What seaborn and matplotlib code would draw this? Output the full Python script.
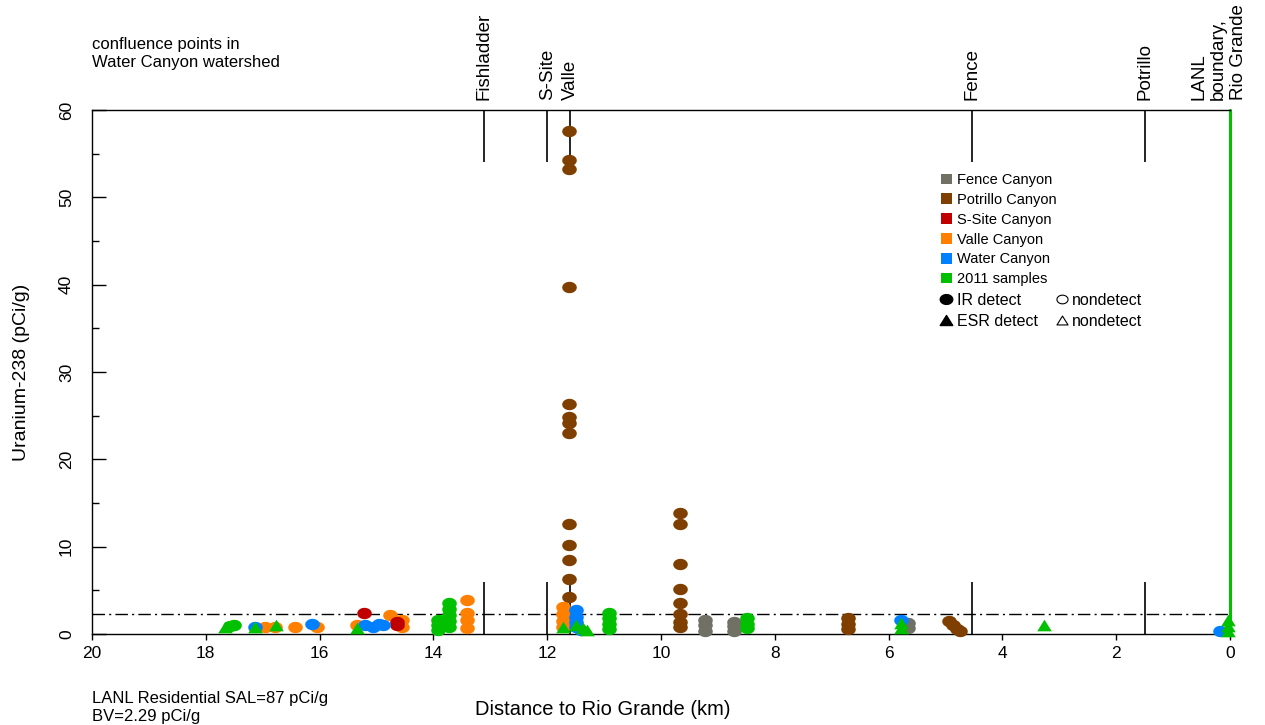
import numpy as np
import pandas as pd
import matplotlib
matplotlib.use("Agg")
import matplotlib.pyplot as plt
import matplotlib.transforms as mtransforms
from matplotlib.path import Path
from matplotlib.lines import Line2D
from matplotlib.patches import Patch
import seaborn as sns

# ---------------- data ----------------
fence_km = [9.23, 9.23, 9.23, 8.72, 8.72, 8.72, 5.66, 5.66]
fence_u = [1.6, 1.0, 0.4, 1.4, 0.9, 0.4, 1.3, 0.7]

potrillo_km = [11.62, 11.62, 11.62, 11.62, 11.62, 11.62, 11.62, 11.62, 11.62, 11.62, 11.62, 11.62, 11.62,
               9.67, 9.67, 9.67, 9.67, 9.67, 9.67, 9.67, 9.67,
               6.71, 6.71, 6.71,
               4.93, 4.86, 4.80, 4.74]
potrillo_u = [57.6, 54.3, 53.3, 39.7, 26.3, 24.9, 24.2, 23.0, 12.6, 10.2, 8.5, 6.3, 4.2,
              13.9, 12.6, 8.0, 5.2, 3.5, 2.3, 1.4, 0.8,
              1.8, 1.2, 0.6,
              1.5, 1.0, 0.6, 0.3]

valle_km = [16.96, 16.78, 16.43, 16.05, 15.34, 14.76, 14.55, 14.55,
            13.41, 13.41, 13.41, 13.41, 11.72, 11.72, 11.72, 11.72]
valle_u = [0.8, 0.8, 0.8, 0.8, 1.0, 2.2, 1.6, 0.8,
           3.9, 2.4, 1.6, 0.7, 3.1, 2.3, 1.5, 0.8]

ssite_km = [15.22, 14.64, 14.64]
ssite_u = [2.4, 1.4, 1.0]

water_km = [17.13, 16.13, 15.20, 15.06, 14.95, 14.89, 11.49, 11.49, 11.49, 11.49, 11.40, 5.78, 0.18]
water_u = [0.8, 1.1, 1.0, 0.8, 1.2, 1.0, 2.7, 2.0, 1.4, 0.8, 0.5, 1.6, 0.3]

s2011_ir_km = [17.57, 17.50, 13.92, 13.92, 13.92, 13.73, 13.73, 13.73, 13.73, 13.73,
               10.91, 10.91, 10.91, 10.91, 8.49, 8.49, 8.49]
s2011_ir_u = [0.9, 1.0, 1.6, 1.0, 0.5, 3.6, 2.9, 2.2, 1.5, 0.8,
              2.4, 1.8, 1.2, 0.6, 1.8, 1.2, 0.7]

s2011_esr_km = [17.66, 17.13, 16.77, 15.34, 11.72, 11.49, 11.37, 11.30, 5.78, 5.78, 3.27, 0.03, 0.03, 0.03]
s2011_esr_u = [0.8, 0.8, 1.0, 0.7, 0.8, 1.0, 0.7, 0.5, 1.3, 0.7, 1.0, 1.6, 0.9, 0.3]

canyon_names = ["Fence Canyon", "Potrillo Canyon", "S-Site Canyon", "Valle Canyon", "Water Canyon", "2011 samples"]
canyon_colors = ["#707064", "#7F3F00", "#C00000", "#FF8000", "#0080FF", "#00C000"]

conf_names = ["Fishladder", "S-Site", "Valle", "Fence", "Potrillo"]
conf_km = [13.11, 12.00, 11.60, 4.53, 1.49]

bv = 2.29
xticks = [20, 18, 16, 14, 12, 10, 8, 6, 4, 2, 0]
yticks = [0, 10, 20, 30, 40, 50, 60]

# ---------------- style ----------------
sns.set_style("ticks")
plt.rcParams["font.family"] = ["Liberation Sans", "DejaVu Sans"]
plt.rcParams["text.color"] = "black"
plt.rcParams["axes.labelcolor"] = "black"
plt.rcParams["xtick.color"] = "black"
plt.rcParams["ytick.color"] = "black"
plt.rcParams["legend.labelcolor"] = "black"

fig = plt.figure(figsize=(12.65, 7.25), dpi=100)
ax = fig.add_axes([92 / 1265, 91 / 725, 1138 / 1265, 524 / 725])

t = np.linspace(0, 2 * np.pi, 64)
ellipse = Path(np.column_stack([np.cos(t), 0.78 * np.sin(t)]), closed=True)
tri = Path([(0, 0.8), (-1, -0.8), (1, -0.8), (0, 0.8)], closed=True)

color = dict(zip(canyon_names, canyon_colors))
groups = [
    (potrillo_km, potrillo_u, "Potrillo Canyon", ellipse),
    (fence_km, fence_u, "Fence Canyon", ellipse),
    (valle_km, valle_u, "Valle Canyon", ellipse),
    (ssite_km, ssite_u, "S-Site Canyon", ellipse),
    (water_km, water_u, "Water Canyon", ellipse),
    (s2011_ir_km, s2011_ir_u, "2011 samples", ellipse),
    (s2011_esr_km, s2011_esr_u, "2011 samples", tri),
]
for km, u, name, mk in groups:
    df = pd.DataFrame({"km": km, "u": u})
    sns.scatterplot(data=df, x="km", y="u", color=color[name], marker=mk, s=110,
                    linewidth=0, ax=ax, clip_on=False, zorder=3, legend=False)

ax.set_xlim(20, 0)
ax.set_ylim(0, 60)

# confluence lines
ax.vlines(conf_km, 54.0, 60, color="black", lw=1.2, zorder=2)
ax.vlines(conf_km, 0, 5.95, color="black", lw=1.2, zorder=2)
ax.axvline(0, color="#00C000", lw=2.2, zorder=2, clip_on=False)
ax.axhline(bv, color="black", lw=1, linestyle=(0, (9, 3, 1.5, 3)), zorder=1)

trans = mtransforms.blended_transform_factory(ax.transData, ax.transAxes)
for name, km in zip(conf_names, conf_km):
    ax.text(km, 1.019, name, rotation=90, ha="center", va="bottom", fontsize=13.5, transform=trans)
ax.text(0.20, 1.019, "LANL\nboundary,\nRio Grande", rotation=90, ha="center", va="bottom",
        fontsize=13.5, transform=trans, multialignment="left", linespacing=1.2)

# axes styling
ax.set_xticks(xticks)
ax.set_xticklabels([str(v) for v in xticks], fontsize=12.5)
ax.set_yticks(yticks)
ax.set_yticklabels([str(v) for v in yticks], fontsize=12.5, rotation=90, va="center")
ax.set_yticks(np.arange(5, 60, 10), minor=True)
ax.tick_params(axis="x", which="both", direction="out", length=4.5, width=1, color="black", pad=4)
ax.tick_params(axis="y", which="major", direction="in", length=10, width=1, color="black", pad=13)
ax.tick_params(axis="y", which="minor", direction="in", length=5, width=1, color="black")
for side in ["left", "top", "bottom"]:
    ax.spines[side].set_color("black")
    ax.spines[side].set_linewidth(1)
ax.spines["right"].set_visible(False)

ax.set_xlabel("Distance to Rio Grande (km)", fontsize=14.5)
ax.set_ylabel("Uranium-238 (pCi/g)", fontsize=14)
ax.xaxis.set_label_coords((603 - 92) / 1138, (634 - 700) / 524)
ax.yaxis.set_label_coords((30 - 92) / 1138, 0.5)

# annotations
fig.text(92 / 1265, 1 - 53 / 725, "confluence points in\nWater Canyon watershed", fontsize=12,
         ha="left", va="center", linespacing=1.25)
fig.text(92 / 1265, 1 - 707 / 725, "LANL Residential SAL=87 pCi/g\nBV=2.29 pCi/g", fontsize=12,
         ha="left", va="center", linespacing=1.25)

# legends
h1 = [Patch(facecolor=c, edgecolor="none") for c in canyon_colors]
leg1 = ax.legend(h1, canyon_names, loc="upper left", bbox_to_anchor=((941 - 92) / 1138, (634 - 173) / 524),
                 frameon=False, fontsize=10.5, handlelength=0.75, handleheight=0.75, handletextpad=0.35,
                 labelspacing=0.40, borderpad=0, borderaxespad=0)
ax.add_artist(leg1)
h2 = [Line2D([], [], marker=ellipse, color="black", ls="none", markersize=9),
      Line2D([], [], marker=tri, color="black", ls="none", markersize=9),
      Line2D([], [], marker=ellipse, markerfacecolor="white", markeredgecolor="black", ls="none",
             markersize=8, markeredgewidth=0.8),
      Line2D([], [], marker=tri, markerfacecolor="white", markeredgecolor="black", ls="none",
             markersize=8, markeredgewidth=0.8)]
ax.legend(h2, ["IR detect", "ESR detect", "nondetect", "nondetect"], ncol=2, loc="upper left",
          bbox_to_anchor=((940 - 92) / 1138, (634 - 293) / 524), frameon=False, fontsize=11.5,
          handlelength=0.8, handletextpad=0.25, labelspacing=0.35, columnspacing=1.1,
          borderpad=0, borderaxespad=0)

fig.savefig("out.png", dpi=100)
